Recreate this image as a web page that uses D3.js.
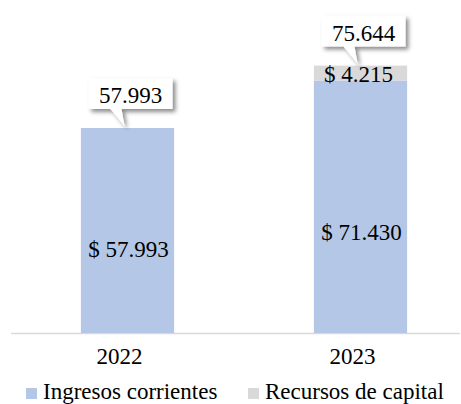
<!DOCTYPE html>
<html><head><meta charset="utf-8">
<script src="https://cdn.jsdelivr.net/npm/d3@7"></script>
<style>body{margin:0;background:#fff}svg{display:block}</style>
</head><body><svg id="c" width="461" height="404"></svg>
<script>
const years = ["2022", "2023"];
const ingresos = [57.993, 71.430];
const recursos = [0, 4.215];
const totals = [57.993, 75.644];
const seriesNames = ["Ingresos corrientes", "Recursos de capital"];
const colors = ["#b4c7e7", "#d9d9d9"];
const fmt = v => v.toFixed(3);
const FONT = '"Liberation Serif"';

const svg = d3.select("#c");
const defs = svg.append("defs");
const f = defs.append("filter").attr("id","sh").attr("x","-20%").attr("y","-20%").attr("width","150%").attr("height","160%");
f.append("feDropShadow").attr("dx",3).attr("dy",3).attr("stdDeviation",2).attr("flood-color","#000").attr("flood-opacity",0.45);

const x = d3.scaleBand().domain(years).range([11, 477]).paddingInner(0.6).paddingOuter(0.3);
const y = d3.scaleLinear().domain([0, 94.2]).range([333, 0]);

function txt(sel){ return sel.style("font-family", FONT).style("font-size","23px").attr("fill","#000"); }

svg.append("line").attr("x1",11).attr("x2",460).attr("y1",y(0)+0.5).attr("y2",y(0)+0.5).attr("stroke","#d9d9d9").attr("stroke-width",1.5);

svg.selectAll(".b1").data(years).join("rect")
  .attr("x", d=>x(d)).attr("width", x.bandwidth())
  .attr("y", (d,i)=>y(ingresos[i])).attr("height",(d,i)=>y(0)-y(ingresos[i]))
  .attr("fill", colors[0]);
svg.selectAll(".b2").data(years).join("rect")
  .attr("x", d=>x(d)).attr("width", x.bandwidth())
  .attr("y", (d,i)=>y(ingresos[i]+recursos[i])).attr("height",(d,i)=>y(ingresos[i])-y(ingresos[i]+recursos[i]))
  .attr("fill", colors[1]);

years.forEach((d,i)=>{
  const cx = x(d)+x.bandwidth()/2;
  txt(svg.append("text").attr("x",cx+1).attr("y", y(ingresos[i]) + (y(0)-y(ingresos[i]))*0.63)
    .attr("text-anchor","middle")).text("$ "+fmt(ingresos[i]));
  if (recursos[i] > 0) {
    txt(svg.append("text").attr("x",cx-2).attr("y", y(ingresos[i])+1.5)
      .attr("text-anchor","middle")).text("$ "+fmt(recursos[i]));
  }
});

years.forEach((d,i)=>{
  const cx = x(d)+x.bandwidth()/2;
  const top = y(totals[i]);
  const bw = 84, bh = 31;
  const bx = cx + 3 - bw/2, by = top - 19 - bh;
  const tipX = cx - 3, tipY = top - 2;
  const p = `M${bx},${by} H${bx+bw} V${by+bh} H${bx+33} L${tipX},${tipY} L${bx+22},${by+bh} H${bx} Z`;
  svg.append("path").attr("d",p).attr("fill","#fff").attr("filter","url(#sh)");
  txt(svg.append("text").attr("x",bx+bw/2).attr("y",by+25).attr("text-anchor","middle")).text(fmt(totals[i]));
});

years.forEach(d=>{
  txt(svg.append("text").attr("x", x(d)+x.bandwidth()/2 - 8).attr("y", 364).attr("text-anchor","middle")).text(d);
});

const lg = [{x:26},{x:248}];
seriesNames.forEach((n,i)=>{
  svg.append("rect").attr("x",lg[i].x).attr("y",388).attr("width",11).attr("height",11).attr("fill",colors[i]);
  txt(svg.append("text").attr("x",lg[i].x+17).attr("y",399)).text(n);
});
</script></body></html>
